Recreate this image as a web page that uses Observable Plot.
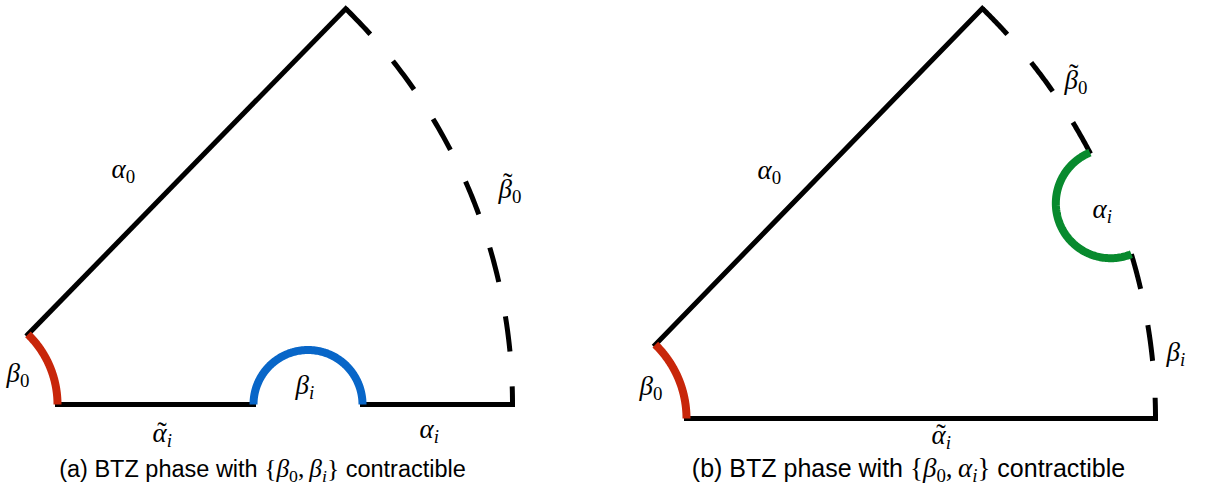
<!DOCTYPE html>
<html><head><meta charset="utf-8">
<script src="https://cdn.jsdelivr.net/npm/d3@7"></script>
<script src="https://cdn.jsdelivr.net/npm/@observablehq/plot@0.6"></script>
<style>html,body{margin:0;padding:0;background:#fff}</style>
</head><body><div id="chart"></div>
<script>
// ---- Diagram geometry (annular sectors, pixel-like units, y downward) ----
const panelIds     = ["a", "b"];
const centerX      = [-41, 583];
const centerY      = [404, 418];
const innerRadius  = [98, 103];
const outerRadius  = [553, 572];
const apexAngleDeg = [45.7, 45.8];

// (a): blue half-circle sitting on the bottom edge
const blueAlong  = 348.5;  // distance from centre along bottom edge
const blueRadius = 54.5;
// (b): green half-circle cut into the outer arc, between these angles
const greenFromDeg = 16.7;
const greenToDeg   = 27.7;

// dash patterns [dash, gap] (square caps add the stroke width to each dash)
const dashA = [30.5, 40];
const dashB = [31, 42];

// ---- Labels ----
const labelText = ["α_0", "~β_0", "β_0", "β_i", "~α_i", "α_i",
                   "α_0", "~β_0", "α_i", "β_i", "β_0", "~α_i"];
const labelX = [111, 498, 6, 295, 152, 419, 757, 1064, 1092, 1166, 639, 931];
const labelY = [177, 197, 381, 393, 441, 437, 178, 88, 217, 360, 394, 443];

const captionText = ["(a) BTZ phase with ${β_0, β_i}$ contractible",
                     "(b) BTZ phase with ${β_0, α_i}$ contractible"];
const captionX = [262, 908];
const captionY = [476, 476];
const captionSize = [23.5, 25];

const RED = "#c8260a", BLUE = "#0866c8", GREEN = "#088a2e";

// ---- build geometry from the parameters ----
const rad = d => d * Math.PI / 180;
function arc(cx, cy, R, a0, a1, n = 120) {
  return d3.range(n + 1).map(i => {
    const a = rad(a0 + (a1 - a0) * i / n);
    return {x: cx + R * Math.cos(a), y: cy - R * Math.sin(a)};
  });
}
const P = panelIds.map((id, k) => ({
  cx: centerX[k], cy: centerY[k], r: innerRadius[k], R: outerRadius[k], t: apexAngleDeg[k]
}));
const pa = P[0], pb = P[1];
const polar = (p, rr, deg) => ({x: p.cx + rr * Math.cos(rad(deg)), y: p.cy - rr * Math.sin(rad(deg))});

const solid = [
  {s: 0, ...polar(pa, pa.r, pa.t)}, {s: 0, ...polar(pa, pa.R, pa.t)},
  {s: 1, ...polar(pa, pa.r, 0)}, {s: 1, ...polar(pa, blueAlong - blueRadius, 0)},
  {s: 2, ...polar(pa, blueAlong + blueRadius, 0)}, {s: 2, ...polar(pa, pa.R, 0)},
  {s: 3, ...polar(pb, pb.r, pb.t)}, {s: 3, ...polar(pb, pb.R, pb.t)},
  {s: 4, ...polar(pb, pb.r, 0)}, {s: 4, ...polar(pb, pb.R, 0)}
];

const dashedA = arc(pa.cx, pa.cy, pa.R, pa.t, 0);
const dashedB1 = arc(pb.cx, pb.cy, pb.R, pb.t, greenToDeg);
const dashedB2 = arc(pb.cx, pb.cy, pb.R, greenFromDeg, 0);

const redArcs = [
  ...arc(pa.cx, pa.cy, pa.r, 0, pa.t).map(d => ({...d, s: 0})),
  ...arc(pb.cx, pb.cy, pb.r, 0, pb.t).map(d => ({...d, s: 1}))
];
const blueArc = d3.range(121).map(i => {
  const a = Math.PI * (1 - i / 120);
  return {x: pa.cx + blueAlong + blueRadius * Math.cos(a), y: pa.cy - blueRadius * Math.sin(a)};
});
const A = polar(pb, pb.R, greenToDeg), B = polar(pb, pb.R, greenFromDeg);
const M = {x: (A.x + B.x) / 2, y: (A.y + B.y) / 2};
const h = Math.hypot(A.x - M.x, A.y - M.y);
const u = {x: (A.x - M.x) / h, y: (A.y - M.y) / h};
const nl = Math.hypot(pb.cx - M.x, pb.cy - M.y);
const nv = {x: (pb.cx - M.x) / nl, y: (pb.cy - M.y) / nl};
const greenArc = d3.range(121).map(i => {
  const a = Math.PI * i / 120;
  return {x: M.x + h * (Math.cos(a) * u.x + Math.sin(a) * nv.x),
          y: M.y + h * (Math.cos(a) * u.y + Math.sin(a) * nv.y)};
});

const labels = labelText.map((t, i) => ({t, x: labelX[i], y: labelY[i]}));
const captions = captionText.map((t, i) => ({t, x: captionX[i], y: captionY[i], fs: captionSize[i]}));

const chart = Plot.plot({
  width: 1207, height: 489, margin: 0,
  x: {domain: [0, 1207], range: [0, 1207], axis: null},
  y: {domain: [0, 489], range: [0, 489], axis: null},
  marks: [
    Plot.line(solid, {x: "x", y: "y", z: "s", stroke: "#000", strokeWidth: 5, strokeLinecap: "square"}),
    Plot.line(dashedA, {x: "x", y: "y", stroke: "#000", strokeWidth: 5, strokeLinecap: "square",
      strokeDasharray: dashA.join(","), strokeDashoffset: -2.5}),
    Plot.line(dashedB1, {x: "x", y: "y", stroke: "#000", strokeWidth: 5, strokeLinecap: "square",
      strokeDasharray: dashB.join(","), strokeDashoffset: -2.5}),
    Plot.line(dashedB2, {x: "x", y: "y", stroke: "#000", strokeWidth: 5, strokeLinecap: "square",
      strokeDasharray: dashB.join(","), strokeDashoffset: -2.5}),
    Plot.line(redArcs, {x: "x", y: "y", z: "s", stroke: RED, strokeWidth: 8, strokeLinecap: "butt"}),
    Plot.line(blueArc, {x: "x", y: "y", stroke: BLUE, strokeWidth: 8, strokeLinecap: "butt"}),
    Plot.line(greenArc, {x: "x", y: "y", stroke: GREEN, strokeWidth: 8, strokeLinecap: "butt"}),
    Plot.text(labels, {x: "x", y: "y", text: "t", textAnchor: "start", lineAnchor: "bottom",
      fontSize: 27, fill: "#000"}),
    Plot.text(captions, {x: "x", y: "y", text: "t", textAnchor: "middle", lineAnchor: "bottom",
      fontSize: "fs", fill: "#000"})
  ]
});
document.getElementById("chart").appendChild(chart);

// ---- rich text: italic math with subscripts / tildes ----
const SERIF = "'Liberation Serif', 'DejaVu Serif', serif";
const SANS = "'Liberation Sans', 'DejaVu Sans', sans-serif";
function rich(el, allMath) {
  const s = el.textContent;
  const size = parseFloat(getComputedStyle(el).fontSize);
  el.textContent = "";
  let curDy = 0, pendingDx = 0;
  function add(txt, o, offset = 0) {
    const t = document.createElementNS("http://www.w3.org/2000/svg", "tspan");
    t.textContent = txt;
    t.setAttribute("font-family", o.family);
    t.setAttribute("font-size", o.size);
    t.setAttribute("font-style", o.italic ? "italic" : "normal");
    const dy = offset - curDy;
    if (dy) t.setAttribute("dy", dy);
    curDy = offset;
    if (pendingDx) { t.setAttribute("dx", pendingDx); pendingDx = 0; }
    el.appendChild(t);
    return t;
  }
  const parts = allMath ? ["", s] : s.split("$");
  parts.forEach((part, k) => {
    if (k % 2 === 0) { if (part) add(part, {family: SANS, size}); return; }
    const ms = allMath ? size : size * 1.08;
    for (let i = 0; i < part.length; i++) {
      const c = part[i];
      if (c === "~") {
        const base = part[++i];
        const tb = add(base, {family: SERIF, size: ms, italic: true});
        const wb = tb.getComputedTextLength();
        const lift = base === "β" ? -0.2 * ms : -0.02 * ms;
        const tt = add("\u02DC", {family: SERIF, size: ms * 1.05}, lift);
        const wt = tt.getComputedTextLength();
        const slant = 0.09 * ms;
        tt.setAttribute("dx", -(wb + wt) / 2 + slant);
        pendingDx = (wb - wt) / 2 - slant;
        curDy = lift;
        continue;
      }
      if (c === "_") {
        const sc = part[++i];
        add(sc, {family: SERIF, size: ms * 0.7, italic: /[a-z]/.test(sc)}, ms * 0.2);
        continue;
      }
      if (/[α-ω]/.test(c)) add(c, {family: SERIF, size: ms, italic: true});
      else if (c === " ") add("\u2009", {family: SERIF, size: ms});
      else add(c, {family: SERIF, size: ms});
    }
  });
  if (curDy) add("", {family: SERIF, size}, 0);
}
chart.querySelectorAll("text").forEach(el => {
  rich(el, !el.textContent.includes("BTZ"));
});
</script>
</body></html>
